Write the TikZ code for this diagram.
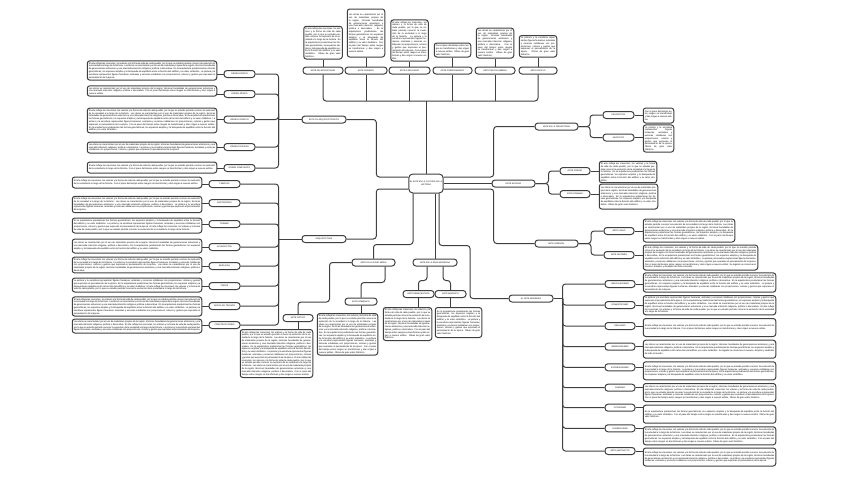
\documentclass[tikz,border=0pt]{standalone}
\usepackage{fontspec}
\setmainfont{Liberation Sans}
\usetikzlibrary{positioning}
\definecolor{ink}{HTML}{404040}

% recurring sentences for the small text boxes
\newcommand\frA{El arte refleja las creencias, los valores y la forma de vida de cada pueblo, por lo que su estudio permite conocer la evolución de la sociedad a lo largo de la historia. }
\newcommand\frB{Las obras se caracterizan por el uso de materiales propios de la región, técnicas heredadas de generaciones anteriores y una marcada intención religiosa, política o decorativa. }
\newcommand\frC{En la arquitectura predominan las formas geométricas, los espacios amplios y la búsqueda de equilibrio entre la función del edificio y su valor simbólico. }
\newcommand\frD{La pintura y la escultura representan figuras humanas, animales y escenas cotidianas con proporciones, colores y gestos que expresan el pensamiento de la época. }
\newcommand\frE{Con el paso del tiempo estos rasgos se transforman y dan origen a nuevos estilos. }
\newcommand\frF{Su legado se conserva en museos, templos y ciudades de todo el mundo. }
\newcommand\frG{Obras de gran valor histórico. }

\begin{document}
\begin{tikzpicture}[
  x=1pt, y=-1pt,
  lab/.style={draw=ink, line width=1pt, rounded corners=3pt, fill=white, align=center,
              inner sep=0pt, minimum height=7pt, font=\fontsize{2.1}{2.5}\selectfont},
  main/.style={draw=ink, line width=1pt, rounded corners=4pt, fill=white, align=center,
               inner sep=1pt, minimum width=34pt, minimum height=19pt, font=\fontsize{2.1}{2.7}\selectfont},
  txt/.style={draw=ink, line width=1pt, rounded corners=2.5pt, fill=white, align=justify,
              inner sep=1.5pt, font=\fontsize{2.3}{2.8}\selectfont},
  tb/.style 2 args={txt, text width=#1, minimum height=#2},
  link/.style={draw=ink, line width=1pt, rounded corners=3pt}
]
\useasboundingbox (0,0) rectangle (848,477);

% centre
\node[main] (arte) at (426,183.5) {EL ARTE EN LA CULTURA DE LA\\HISTORIA};

% Row 1 -- top branch
\coordinate (hub) at (426,101);
\node[lab, minimum width=40pt] (paleo) at (323,70.5) {ARTE PALEOCRISTIANO};
\node[lab, minimum width=42pt] (islam) at (366,70.5) {ARTE ISLÁMICO};
\node[lab, minimum width=41pt] (caro) at (409.5,70.5) {ARTE CAROLINGIO};
\node[lab, minimum width=39pt] (prerr) at (452.5,70.5) {ARTE PRERROMÁNICO};
\node[lab, minimum width=40pt] (preco) at (495,70.5) {ARTE PRECOLOMBINO};
\node[lab, minimum width=38pt] (egipto) at (538,70.5) {ARTE EGIPCIO};

\node[tb={35.5pt}{32pt}, above=7pt of paleo] (tpaleo) {\frA\frC\frG};
\node[tb={34.5pt}{48pt}, above=9pt of islam] (tislam) {\frB\frC\frE};
\node[tb={34.5pt}{40pt}, above=5pt of caro] (tcaro) {\frA\frD\frE};
\node[tb={33.5pt}{14pt}, above=9pt of prerr] (tprerr) {\frE\frG};
\node[tb={34.5pt}{26pt}, above=8pt of preco] (tpreco) {\frB\frE\frG};
\node[tb={34.5pt}{21pt}, above=9pt of egipto] (tegipto) {\frD\frG};

% left, upper -- orders
\node[lab, minimum width=44pt] (estilos) at (324,119.5) {ESTILOS ARQUITECTÓNICOS};
\coordinate (estj) at ([xshift=-23pt]estilos.west);
\node[lab, minimum width=31pt] (dorico) at (239.5,74) {ORDEN DÓRICO};
\node[lab, minimum width=31pt] (jonico) at (239.5,94) {ORDEN JÓNICO};
\node[lab, minimum width=31pt] (corintio) at (239.5,119.5) {ORDEN CORINTIO};
\node[lab, minimum width=31pt] (toscano) at (239.5,147) {ORDEN TOSCANO};
\node[lab, minimum width=31pt] (compuesto) at (239.5,168) {ORDEN COMPUESTO};

\node[tb={126.5pt}{17pt}] (tdorico) at (152,70.5) {\frA\frB\frC\frD};
\node[tb={126.5pt}{10pt}] (tjonico) at (152,91) {\frB\frE};
\node[tb={126.5pt}{23pt}] (tcorintio) at (152,120.5) {\frA\frB\frC\frD\frE\frC};
\node[tb={126.5pt}{11pt}] (ttoscano) at (152,147.5) {\frB\frD};
\node[tb={126.5pt}{11pt}] (tcompuesto) at (152,167.5) {\frA\frE};

% left, lower -- buildings
\node[lab, minimum width=44pt] (arqui) at (324,239) {ARQUITECTURA};
\coordinate (arqj) at ([xshift=-23pt]arqui.west);
\node[lab, minimum width=31pt] (templos) at (224.5,184) {TEMPLOS};
\node[lab, minimum width=31pt] (anfi) at (224.5,203) {ANFITEATROS};
\node[lab, minimum width=31pt] (termas) at (224.5,224) {TERMAS};
\node[lab, minimum width=31pt] (acued) at (224.5,247) {ACUEDUCTOS};
\node[lab, minimum width=31pt] (basil) at (224.5,266) {BASÍLICAS};
\node[lab, minimum width=31pt] (foros) at (224.5,286) {FOROS};
\node[lab, minimum width=31pt] (arcos) at (224.5,306) {ARCOS DE TRIUNFO};
\node[lab, minimum width=31pt] (constr) at (224.5,325) {CONSTRUCCIONES};

\node[tb={126.5pt}{11pt}] (ttemplos) at (137,182.5) {\frA\frE};
\node[tb={126.5pt}{15pt}] (tanfi) at (137,204.5) {\frA\frB\frD};
\node[tb={126.5pt}{15pt}] (ttermas) at (137,225.5) {\frC\frD\frA};
\node[tb={126.5pt}{14pt}] (tacued) at (137,246) {\frB\frC};
\node[tb={126.5pt}{14pt}] (tbasil) at (137,265) {\frA\frD\frB};
\node[tb={126.5pt}{14pt}] (tforos) at (137,285) {\frD\frC\frA};
\node[tb={126.5pt}{17pt}] (tarcos) at (137,306.5) {\frA\frB\frC\frD};
\node[tb={126.5pt}{14pt}] (tconstr) at (137,326) {\frB\frA\frD};

% bottom -- middle ages and modern age
\node[lab, minimum width=43pt] (medieval) at (373.5,262.5) {ARTE EN LA EDAD MEDIA};
\node[lab, minimum width=30pt] (gotico) at (298,318) {ARTE GÓTICO};
\node[lab, minimum width=32pt] (romanico) at (361,301.5) {ARTE ROMÁNICO};
\node[tb={69.5pt}{48pt}, anchor=north] (tgotico) at (276.5,329) {\frA\frB\frC\frD\frA\frB\frE};
\node[tb={57.5pt}{40pt}, anchor=north] (tromanico) at (347.5,313) {\frA\frB\frC\frD\frE\frG};

\node[lab, minimum width=44pt] (edadmod) at (435,262.5) {ARTE EN LA EDAD MODERNA};
\node[lab, minimum width=31pt] (renac) at (418.5,294) {ARTE RENACENTISTA};
\node[lab, minimum width=31pt] (barroco) at (450.5,294) {ARTE BARROCO};
\node[tb={45.5pt}{33pt}, anchor=north] (trenac) at (407.5,307) {\frA\frB\frE\frG};
\node[tb={43.5pt}{30pt}, anchor=north] (tbarroco) at (458.5,307) {\frC\frD\frG};

% right -- prehistory, antiquity, orient
\node[lab, minimum width=43pt] (preh) at (556.5,126.5) {ARTE EN LA PREHISTORIA};
\node[lab, minimum width=31pt] (paleol) at (618.5,115) {PALEOLÍTICO};
\node[lab, minimum width=31pt] (neol) at (618.5,137.5) {NEOLÍTICO};
\node[tb={27.5pt}{15pt}] (tpaleol) at (658.5,115.5) {\frE};
\node[tb={27.5pt}{27pt}] (tneol) at (658.5,138.5) {\frD\frG};

\node[lab, minimum width=43pt] (antiguo) at (513.5,183.5) {ARTE ANTIGUO};
\node[lab, minimum width=30pt] (griego) at (575,171) {ARTE GRIEGO};
\node[lab, minimum width=30pt] (romano) at (575,194) {ARTE ROMANO};
\node[tb={54.5pt}{20pt}] (tgriego) at (628,172) {\frA\frC};
\node[tb={55.5pt}{25pt}] (tromano) at (628.5,196.5) {\frB\frC\frG};

\node[lab, minimum width=43pt] (oriente) at (556.5,243.5) {ARTE ORIENTAL};
\node[lab, minimum width=30pt] (chino) at (619,231) {ARTE CHINO};
\node[lab, minimum width=30pt] (japon) at (619,255) {ARTE JAPONÉS};
\node[tb={88.5pt}{23pt}] (tchino) at (689,230.5) {\frA\frB\frC\frE};
\node[tb={111.5pt}{25pt}] (tjapon) at (700.5,257.5) {\frA\frB\frC\frD\frE\frF};

% right, lower -- modern movements
\node[lab, minimum width=44pt] (moderno) at (531,298.5) {EL ARTE MODERNO};
\coordinate (modj) at ([xshift=9pt]moderno.east);
\node[lab, minimum width=30pt] (neocl) at (620,284) {NEOCLASICISMO};
\node[lab, minimum width=30pt] (roman) at (620,305) {ROMANTICISMO};
\node[lab, minimum width=30pt] (realis) at (620,326) {REALISMO};
\node[lab, minimum width=30pt] (impres) at (620,346.7) {IMPRESIONISMO};
\node[lab, minimum width=30pt] (expres) at (620,367.3) {EXPRESIONISMO};
\node[lab, minimum width=30pt] (cubis) at (620,387.7) {CUBISMO};
\node[lab, minimum width=30pt] (futur) at (620,407.7) {FUTURISMO};
\node[lab, minimum width=30pt] (surre) at (620,428.3) {SURREALISMO};
\node[lab, minimum width=30pt] (abstr) at (620,451) {ARTE ABSTRACTO};

\node[tb={129.5pt}{18pt}] (tneocl) at (709.5,282.5) {\frA\frB\frC\frD};
\node[tb={129.5pt}{18pt}] (troman) at (709.5,305.2) {\frD\frC\frB\frA};
\node[tb={129.5pt}{18pt}] (trealis) at (709.5,327.5) {\frA\frE};
\node[tb={129.5pt}{18pt}] (timpres) at (709.5,349.2) {\frB\frC\frF};
\node[tb={129.5pt}{18pt}] (texpres) at (709.5,370.8) {\frA\frD\frC};
\node[tb={129.5pt}{18pt}] (tcubis) at (709.5,392.5) {\frB\frA\frD\frE\frG};
\node[tb={129.5pt}{18pt}] (tfutur) at (709.5,414.2) {\frC\frE\frG};
\node[tb={129.5pt}{18pt}] (tsurre) at (709.5,435.8) {\frA\frB\frC\frE\frG};
\node[tb={129.5pt}{18pt}] (tabstr) at (709.5,457) {\frA\frB\frD};

% connectors -- top
\draw[link] (arte.north) -- (hub);
\draw[link] (paleo.south) |- (hub) -| (egipto.south);
\draw[link] (islam.south) -- (islam.south |- hub);
\draw[link] (caro.south) -- (caro.south |- hub);
\draw[link] (prerr.south) -- (prerr.south |- hub);
\draw[link] (preco.south) -- (preco.south |- hub);
\draw[link] (paleo.north) -- (tpaleo.south);
\draw[link] (islam.north) -- (tislam.south);
\draw[link] (caro.north) -- (tcaro.south);
\draw[link] (prerr.north) -- (tprerr.south);
\draw[link] (preco.north) -- (tpreco.south);
\draw[link] (egipto.north) -- (tegipto.south);

% connectors -- left
\draw[link] ([yshift=6.5pt]arte.west) -- ++(-32,0) |- (estilos.east);
\draw[link] (estilos.west) -- (estj);
\draw[link] (estj) |- (dorico.east);
\draw[link] (estj) |- (jonico.east);
\draw[link] (estj) |- (corintio.east);
\draw[link] (estj) |- (toscano.east);
\draw[link] (estj) |- (compuesto.east);
\draw[link] (dorico.west) -- (dorico.west -| tdorico.east);
\draw[link] (jonico.west) -- (jonico.west -| tjonico.east);
\draw[link] (corintio.west) -- (corintio.west -| tcorintio.east);
\draw[link] (toscano.west) -- (toscano.west -| ttoscano.east);
\draw[link] (compuesto.west) -- (compuesto.west -| tcompuesto.east);

\draw[link] ([yshift=-5.5pt]arte.west) -- ++(-32,0) |- (arqui.east);
\draw[link] (arqui.west) -- (arqj);
\draw[link] (arqj) |- (templos.east);
\draw[link] (arqj) |- (anfi.east);
\draw[link] (arqj) |- (termas.east);
\draw[link] (arqj) |- (acued.east);
\draw[link] (arqj) |- (basil.east);
\draw[link] (arqj) |- (foros.east);
\draw[link] (arqj) |- (arcos.east);
\draw[link] (arqj) |- (constr.east);
\draw[link] (templos.west) -- (templos.west -| ttemplos.east);
\draw[link] (anfi.west) -- (anfi.west -| tanfi.east);
\draw[link] (termas.west) -- (termas.west -| ttermas.east);
\draw[link] (acued.west) -- (acued.west -| tacued.east);
\draw[link] (basil.west) -- (basil.west -| tbasil.east);
\draw[link] (foros.west) -- (foros.west -| tforos.east);
\draw[link] (arcos.west) -- (arcos.west -| tarcos.east);
\draw[link] (constr.west) -- (constr.west -| tconstr.east);

% connectors -- bottom
\draw[link] ([xshift=-13pt]arte.south) -- ++(0,51) -| (medieval.north);
\draw[link] (medieval.west) -- ++(-22,0) -- ++(0,39.5) -| (gotico.north);
\draw[link] ([xshift=11.5pt]medieval.south) -- ++(0,16) -| (romanico.north);
\draw[link] (gotico.south) -- (gotico.south |- tgotico.north);
\draw[link] (romanico.south) -- (romanico.south |- tromanico.north);
\draw[link] ([xshift=9pt]arte.south) -- (edadmod.north);
\draw[link] ([xshift=-8pt]edadmod.south) -- ++(0,14) -| (renac.north);
\draw[link] ([xshift=8pt]edadmod.south) -- ++(0,14) -| (barroco.north);
\draw[link] (renac.south) -- (renac.south |- trenac.north);
\draw[link] (barroco.south) -- (barroco.south |- tbarroco.north);

% connectors -- right
\draw[link] ([yshift=6.5pt]arte.east) -- ++(50,0) |- (preh.west);
\draw[link] (preh.east) -- ++(11.5,0) |- (paleol.west);
\draw[link] (preh.east) -- ++(11.5,0) |- (neol.west);
\draw[link] (paleol.east) -- (paleol.east -| tpaleol.west);
\draw[link] (neol.east) -- (neol.east -| tneol.west);
\draw[link] (arte.east) -- (antiguo.west);
\draw[link] (antiguo.east) -- ++(13,0) |- (griego.west);
\draw[link] (antiguo.east) -- ++(13,0) |- (romano.west);
\draw[link] (griego.east) -- (griego.east -| tgriego.west);
\draw[link] (romano.east) -- (romano.east -| tromano.west);
\draw[link] ([yshift=-5.5pt]arte.east) -- ++(50,0) |- (oriente.west);
\draw[link] (oriente.east) -- ++(12.5,0) |- (chino.west);
\draw[link] (oriente.east) -- ++(12.5,0) |- (japon.west);
\draw[link] (chino.east) -- (chino.east -| tchino.west);
\draw[link] (japon.east) -- (japon.east -| tjapon.west);

\draw[link] ([xshift=13pt]arte.south) -- ++(0,52) -- ++(31,0) |- (moderno.west);
\draw[link] (moderno.east) -- (modj);
\draw[link] (modj) |- (neocl.west);
\draw[link] (modj) |- (roman.west);
\draw[link] (modj) |- (realis.west);
\draw[link] (modj) |- (impres.west);
\draw[link] (modj) |- (expres.west);
\draw[link] (modj) |- (cubis.west);
\draw[link] (modj) |- (futur.west);
\draw[link] (modj) |- (surre.west);
\draw[link] (modj) |- (abstr.west);
\draw[link] (neocl.east) -- (neocl.east -| tneocl.west);
\draw[link] (roman.east) -- (roman.east -| troman.west);
\draw[link] (realis.east) -- (realis.east -| trealis.west);
\draw[link] (impres.east) -- (impres.east -| timpres.west);
\draw[link] (expres.east) -- (expres.east -| texpres.west);
\draw[link] (cubis.east) -- (cubis.east -| tcubis.west);
\draw[link] (futur.east) -- (futur.east -| tfutur.west);
\draw[link] (surre.east) -- (surre.east -| tsurre.west);
\draw[link] (abstr.east) -- (abstr.east -| tabstr.west);

\end{tikzpicture}
\end{document}
